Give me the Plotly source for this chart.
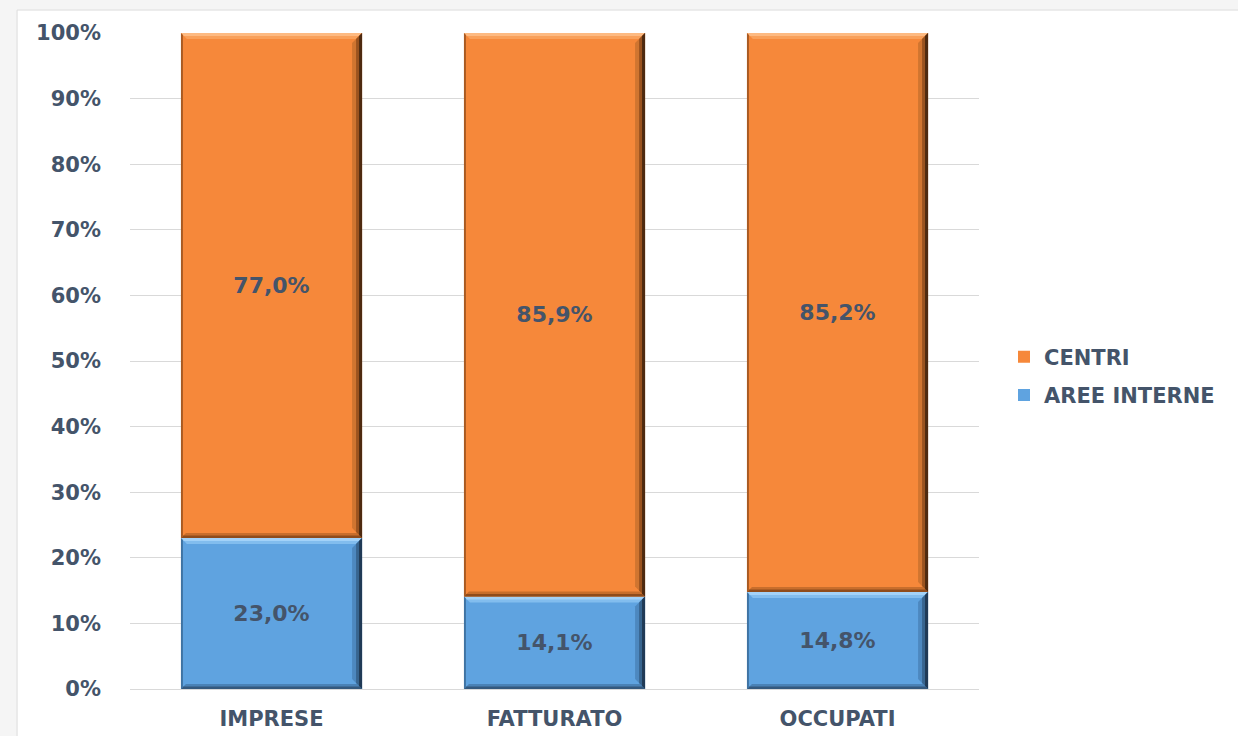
import plotly.graph_objects as go

# Category labels and shares (percent) for each group
categories = ["IMPRESE", "FATTURATO", "OCCUPATI"]
aree_interne = [23.0, 14.1, 14.8]
centri = [77.0, 85.9, 85.2]

TEXT = "#44546A"
FONT = "DejaVu Sans"
ORANGE = "#F6883A"
BLUE = "#5FA3E0"

fig = go.Figure()
fig.add_trace(go.Bar(
    name="AREE INTERNE", x=categories, y=aree_interne,
    legendgroup="a", legendrank=2,
    marker=dict(color=BLUE, line=dict(width=0)),
    texttemplate="%{y:.1f}%", textposition="inside", insidetextanchor="middle",
    textfont=dict(family=FONT, size=22, color=TEXT, weight="bold"),
))
fig.add_trace(go.Bar(
    name="CENTRI", x=categories, y=centri,
    legendgroup="c", legendrank=1,
    marker=dict(color=ORANGE, line=dict(width=0)),
    texttemplate="%{y:.1f}%", textposition="inside", insidetextanchor="middle",
    textfont=dict(family=FONT, size=22, color=TEXT, weight="bold"),
))

# Bevelled edges for each stacked segment, in data coordinates
bar_w = 0.64
half = bar_w / 2
px_x = 1 / 284      # one pixel in category units
px_y = 100 / 656    # one pixel in percent units
shapes = []


def poly(pts, color):
    path = "M " + " L ".join(f"{x:.4f},{y:.4f}" for x, y in pts) + " Z"
    return dict(type="path", path=path, xref="x", yref="y",
                fillcolor=color, line=dict(width=0), layer="above")


def trap_top(x0, x1, y, d_x, d_y, c):
    return poly([(x0, y), (x1, y), (x1 - d_x, y - d_y), (x0 + d_x, y - d_y)], c)


def trap_bottom(x0, x1, y, d_x, d_y, c):
    return poly([(x0, y), (x1, y), (x1 - d_x, y + d_y), (x0 + d_x, y + d_y)], c)


def trap_right(x, y0, y1, d_x, d_y, c):
    return poly([(x, y0), (x, y1), (x - d_x, y1 - d_y), (x - d_x, y0 + d_y)], c)


def trap_left(x, y0, y1, d_x, d_y, c):
    return poly([(x, y0), (x, y1), (x + d_x, y1 - d_y), (x + d_x, y0 + d_y)], c)


palettes = [
    (aree_interne, dict(hi="#A3D2F8", hi2="#82BDEE", r1="#4D88BF", r2="#38658F",
                        r3="#203A56", b1="#4A82B6", b2="#34597E", left="#3F73A3")),
    (centri, dict(hi="#FDBA82", hi2="#F9A05A", r1="#D07530", r2="#9A531F",
                  r3="#4E2A10", b1="#C86E2C", b2="#8F4C1C", left="#A85A22")),
]
for i in range(len(categories)):
    base = 0.0
    for vals, p in palettes:
        y0, y1 = base, base + vals[i]
        x0, x1 = i - half, i + half
        # top highlight (two tones)
        shapes.append(trap_top(x0, x1, y1, 6 * px_x, 6 * px_y, p["hi2"]))
        shapes.append(trap_top(x0, x1, y1, 3 * px_x, 3 * px_y, p["hi"]))
        # bottom shade
        shapes.append(trap_bottom(x0, x1, y0, 5 * px_x, 5 * px_y, p["b1"]))
        shapes.append(trap_bottom(x0, x1, y0, 2.5 * px_x, 2.5 * px_y, p["b2"]))
        # left edge
        shapes.append(trap_left(x0, y0, y1, 2 * px_x, 2 * px_y, p["left"]))
        # right shadow, layered for a soft gradient
        shapes.append(trap_right(x1, y0, y1, 10 * px_x, 10 * px_y, p["r1"]))
        shapes.append(trap_right(x1, y0, y1, 6 * px_x, 6 * px_y, p["r2"]))
        shapes.append(trap_right(x1, y0, y1, 3 * px_x, 3 * px_y, p["r3"]))
        base = y1

# White chart panel on a light grey page
shapes.insert(0, dict(type="rect", xref="paper", yref="paper",
                      x0=-0.133, x1=1.4, y0=-0.2, y1=1.035,
                      fillcolor="white", line=dict(color="#DCDCDC", width=1),
                      layer="below"))

fig.update_layout(
    barmode="stack",
    bargap=1 - bar_w,
    width=1238, height=736,
    margin=dict(l=130, r=259, t=33, b=47, autoexpand=False),
    paper_bgcolor="#F5F5F5",
    plot_bgcolor="white",
    separators=",.",
    shapes=shapes,
    font=dict(family=FONT, color=TEXT),
    showlegend=True,
    legend=dict(
        traceorder="grouped",
        xref="container", yref="container",
        x=1004 / 1238, y=1 - 376 / 736, xanchor="left", yanchor="middle",
        font=dict(family=FONT, size=21, color=TEXT, weight="bold"),
        bgcolor="rgba(0,0,0,0)", itemwidth=30, tracegroupgap=8,
    ),
    xaxis=dict(
        tickfont=dict(family=FONT, size=21, color=TEXT, weight="bold"),
        showgrid=False, showline=False, ticks="", ticklabelstandoff=15,
        automargin=False,
    ),
    yaxis=dict(
        range=[0, 100], dtick=10, ticksuffix="%",
        tickfont=dict(family=FONT, size=21, color=TEXT, weight="bold"),
        gridcolor="#D9D9D9", gridwidth=1,
        zeroline=True, zerolinecolor="#D9D9D9", zerolinewidth=1,
        showline=False, ticks="", ticklabelstandoff=28, automargin=False,
    ),
)

fig.write_html("out.html")
